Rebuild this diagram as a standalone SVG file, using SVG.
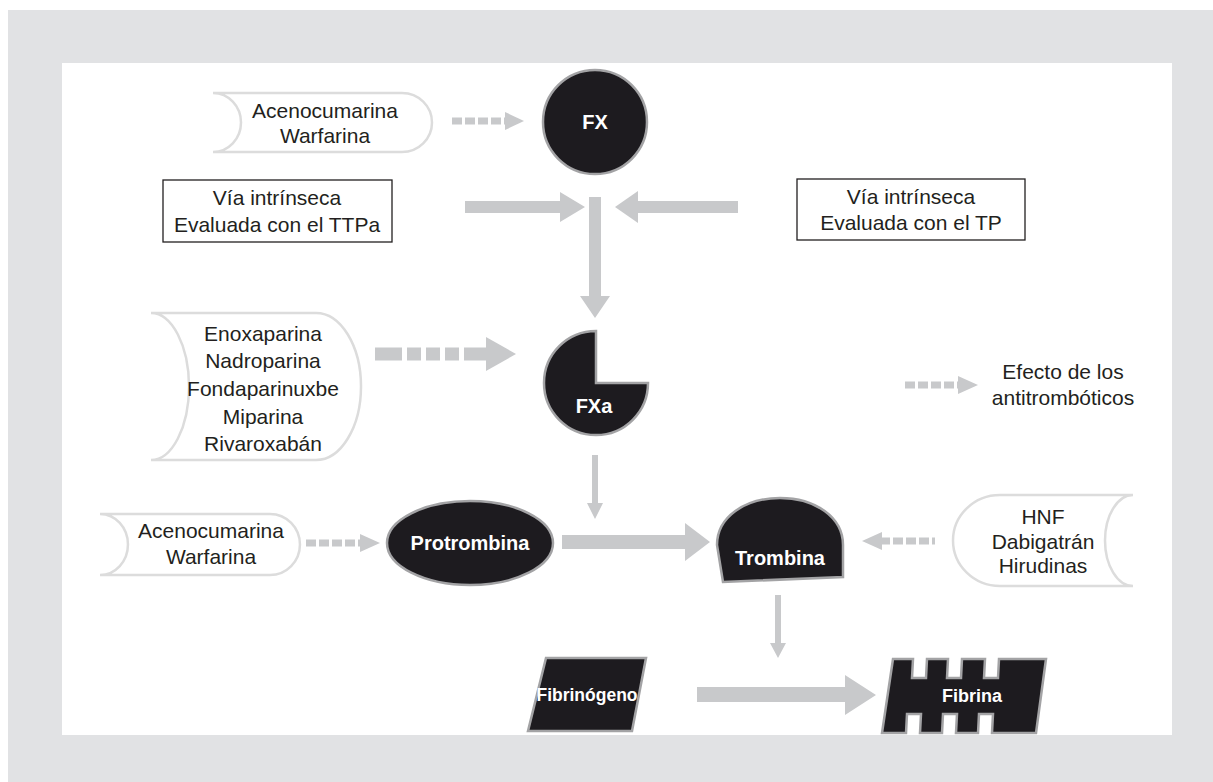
<svg xmlns="http://www.w3.org/2000/svg" width="1213" height="782" viewBox="0 0 1213 782">
<style>
.t{font-family:"Liberation Sans",Arial,Helvetica,sans-serif;font-size:21px;fill:#231f20;text-anchor:middle}
.b{font-family:"Liberation Sans",Arial,Helvetica,sans-serif;font-size:20px;font-weight:bold;fill:#ffffff;text-anchor:middle}
.node{fill:#1d1b1f;stroke:#a3a3a5;stroke-width:2.5}
.drug{fill:#ffffff;stroke:#dcdcdc;stroke-width:2.5}
.box{fill:#ffffff;stroke:#231f20;stroke-width:1.3}
.ah{fill:#c8c9cb}
.sh{stroke:#c8c9cb;fill:none}
</style>
<rect x="8" y="10" width="1205" height="772" fill="#e1e2e4"/>
<rect x="62" y="63" width="1110" height="672" fill="#ffffff"/>

<g id="connectors">
  <line class="sh" x1="452" y1="121" x2="505" y2="121" stroke-width="7" stroke-dasharray="10 3"/>
  <polygon class="ah" points="505,112 524,121 505,130"/>
  <polygon class="ah" points="465,201 560,201 560,192 585,207 560,222 560,213 465,213"/>
  <polygon class="ah" points="738,201 638,201 638,191 615,207 638,223 638,213 738,213"/>
  <polygon class="ah" points="589,197 601,197 601,296 610,296 595,318 580,296 589,296"/>
  <line class="sh" x1="375" y1="354" x2="488" y2="354" stroke-width="13" stroke-dasharray="27 5 14 5 14 5 14 5 30"/>
  <polygon class="ah" points="486,337 516,354 486,371"/>
  <polygon class="ah" points="592,455 598,455 598,503 603,503 595,519 587,503 592,503"/>
  <line class="sh" x1="306" y1="543" x2="361" y2="543" stroke-width="7" stroke-dasharray="10 3"/>
  <polygon class="ah" points="360,534 380,543 360,552"/>
  <polygon class="ah" points="562,535 685,535 685,523 710,542 685,561 685,549 562,549"/>
  <line class="sh" x1="880" y1="541" x2="935" y2="541" stroke-width="7" stroke-dasharray="10 3"/>
  <polygon class="ah" points="882,532 862,541 882,550"/>
  <polygon class="ah" points="775,595 781,595 781,643 786,643 778,658 770,643 775,643"/>
  <polygon class="ah" points="697,687 845,687 845,675 876,695 845,715 845,702 697,702"/>
  <line class="sh" x1="905" y1="385" x2="959" y2="385" stroke-width="7" stroke-dasharray="10 3"/>
  <polygon class="ah" points="958,376 978,385 958,394"/>
</g>

<g id="drug-acenocumarina-1">
  <path class="drug" d="M213,93 H402 A30,29.5 0 0 1 402,152 H213 A28,29.5 0 0 0 213,93 Z"/>
  <text class="t" x="325" y="118">Acenocumarina</text>
  <text class="t" x="325" y="143">Warfarina</text>
</g>

<g id="node-fx">
  <circle class="node" cx="595" cy="122" r="52"/>
  <text class="b" x="595" y="129">FX</text>
</g>

<g id="box-ttpa">
  <rect class="box" x="163" y="180" width="229" height="62"/>
  <text class="t" x="277" y="205">Vía intrínseca</text>
  <text class="t" x="277" y="232">Evaluada con el TTPa</text>
</g>

<g id="box-tp">
  <rect class="box" x="797" y="179" width="228" height="61"/>
  <text class="t" x="911" y="204">Vía intrínseca</text>
  <text class="t" x="911" y="230">Evaluada con el TP</text>
</g>

<g id="drug-heparinas">
  <path class="drug" d="M151,313 H316 A45,73.5 0 0 1 316,460 H151 A38,73.5 0 0 0 151,313 Z"/>
  <text class="t" x="263" y="341">Enoxaparina</text>
  <text class="t" x="263" y="368">Nadroparina</text>
  <text class="t" x="263" y="396">Fondaparinuxbe</text>
  <text class="t" x="263" y="424">Miparina</text>
  <text class="t" x="263" y="451">Rivaroxabán</text>
</g>

<g id="node-fxa">
  <path class="node" d="M596,383 V331 A52,52 0 1 0 648,383 Z"/>
  <text class="b" x="594" y="413">FXa</text>
</g>

<g id="legend">
  <text class="t" x="1063" y="379">Efecto de los</text>
  <text class="t" x="1063" y="405">antitrombóticos</text>
</g>

<g id="drug-acenocumarina-2">
  <path class="drug" d="M100,514 H270 A30,30.5 0 0 1 270,575 H100 A28,30.5 0 0 0 100,514 Z"/>
  <text class="t" x="211" y="538">Acenocumarina</text>
  <text class="t" x="211" y="564">Warfarina</text>
</g>

<g id="node-protrombina">
  <ellipse class="node" cx="470" cy="543" rx="83" ry="42"/>
  <text class="b" x="470" y="550">Protrombina</text>
</g>

<g id="node-trombina">
  <path class="node" d="M723,582 L717,545 C717,517 745,498 780,498 C815,498 843,517 843,545 L843,577 Z"/>
  <text class="b" x="780" y="565">Trombina</text>
</g>

<g id="drug-hnf">
  <path class="drug" d="M1133,495 H1000 A47,45.5 0 0 0 1000,586 H1133 A28,45.5 0 0 1 1133,495 Z"/>
  <text class="t" x="1043" y="524">HNF</text>
  <text class="t" x="1043" y="549">Dabigatrán</text>
  <text class="t" x="1043" y="573">Hirudinas</text>
</g>

<g id="node-fibrinogeno">
  <polygon class="node" points="546,658 646,658 632,731 528,731"/>
  <text class="b" x="587" y="701" style="font-size:17.5px">Fibrinógeno</text>
</g>

<g id="node-fibrina">
  <path class="node" d="M893,659 L913,659 L912,678 L926,678 L927,659 L948,659 L947,678 L961,678 L962,659 L985,659 L984,678 L998,678 L999,659 L1046,659 L1036,733 L992,733 L993,714 L979,714 L978,733 L956,733 L957,714 L943,714 L942,733 L920,733 L921,714 L907,714 L906,733 L882,733 Z"/>
  <text class="b" x="972" y="702" style="font-size:18px">Fibrina</text>
</g>
</svg>
